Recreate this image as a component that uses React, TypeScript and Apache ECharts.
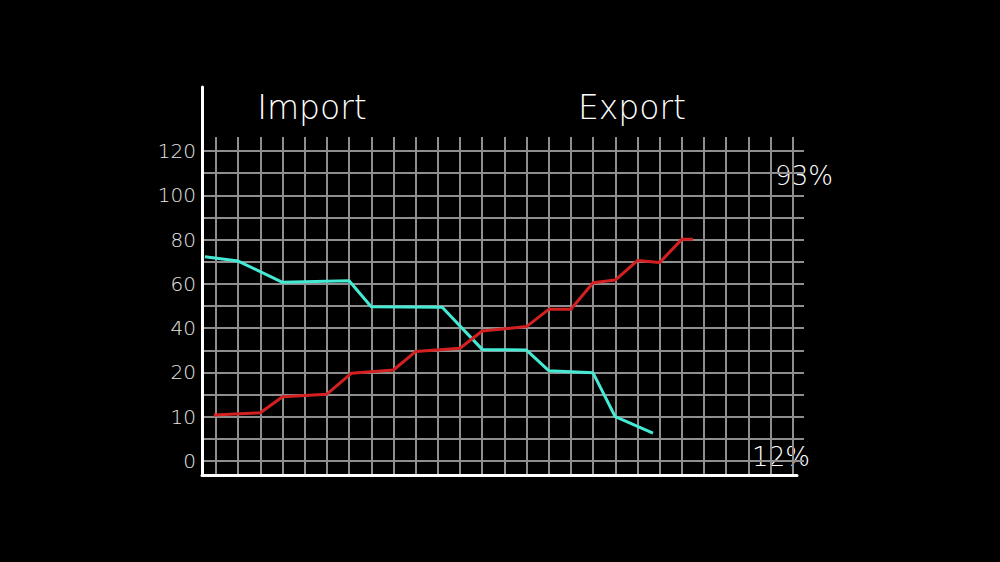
import React, { useEffect, useRef } from "react";
import * as echarts from "echarts";

// Y tick labels (non-linear scale as printed on the chart)
const yTickValues = [0, 10, 20, 40, 60, 80, 100, 120];

// x = grid column index, y = value in the chart's units
const importX = [-0.5, 1, 3, 6, 7, 10.2, 12, 14, 15, 17, 18, 19.7];
const importY = [72.2, 70.3, 60.7, 61.4, 49.7, 49.4, 30.4, 30.1, 20.8, 19.9, 10, 6.3];

const exportX = [-0.1, 2, 3, 5, 6.1, 8, 9, 11, 12, 14, 15, 16, 17, 18, 19, 20, 21, 21.5];
const exportY = [10.4, 10.9, 14.5, 15.1, 19.8, 21.1, 29.4, 30.9, 38.7, 40.7, 48.5, 48.5, 60.5, 61.7, 70.5, 69.6, 80.1, 80.1];

const titles = ["Import", "Export"];
const sideLabels = ["93%", "12%"];

// printed scale: 0..20 spans 4 grid rows, 20..120 spans 10 rows
function toPos(v: number): number {
  return v <= 20 ? v / 5 : 4 + (v - 20) / 10;
}

function zip(xs: number[], ys: number[]) {
  return xs.map((x, i) => [x, toPos(ys[i])]);
}

export default function App() {
  const ref = useRef<HTMLDivElement>(null);
  useEffect(() => {
    document.body.style.margin = "0";
    document.body.style.background = "#000";
    const chart = echarts.init(ref.current!, undefined, { renderer: "svg" });
    const gridColor = "#8e8e8e";
    const thin = { fontFamily: "DejaVu Sans", fontWeight: 200 };
    chart.setOption({
      animation: false,
      backgroundColor: "#000",
      grid: [
        { left: 216, right: 207.3, top: 137, bottom: 87 },
        { left: 202, right: 196, top: 151, bottom: 101 },
        { left: 202, right: 203, top: 87, bottom: 87 },
      ],
      xAxis: [
        {
          gridIndex: 0, type: "value", min: 0, max: 26, interval: 1,
          axisLine: { show: false }, axisTick: { show: false }, axisLabel: { show: false },
          splitLine: { show: true, lineStyle: { color: gridColor, width: 2 } },
        },
        {
          gridIndex: 1, type: "value", min: -0.631, max: 26.51,
          axisLine: { show: false }, axisTick: { show: false }, axisLabel: { show: false },
          splitLine: { show: false },
        },
        {
          gridIndex: 2, type: "value", min: 0, max: 1,
          axisLine: { show: true, lineStyle: { color: "#ffffff", width: 3 } },
          axisTick: { show: false }, axisLabel: { show: false }, splitLine: { show: false },
        },
      ],
      yAxis: [
        {
          gridIndex: 0, type: "value", min: -0.632, max: 14.632,
          axisLine: { show: false }, axisTick: { show: false }, axisLabel: { show: false },
          splitLine: { show: false },
        },
        {
          gridIndex: 1, type: "value", min: 0, max: 14, interval: 1,
          axisLine: { show: false }, axisTick: { show: false },
          axisLabel: {
            show: true, margin: 6, color: "#e6e6e6", fontSize: 20, ...thin,
            formatter: (v: number) => {
              const i = yTickValues.findIndex((t) => Math.abs(toPos(t) - v) < 1e-6);
              return i >= 0 ? String(yTickValues[i]) : "";
            },
          },
          splitLine: { show: true, lineStyle: { color: gridColor, width: 2 } },
        },
        {
          gridIndex: 2, type: "value", min: 0, max: 1,
          axisLine: { show: true, onZero: false, lineStyle: { color: "#ffffff", width: 3 } },
          axisTick: { show: false }, axisLabel: { show: false }, splitLine: { show: false },
        },
      ],
      series: [
        {
          type: "line", xAxisIndex: 1, yAxisIndex: 1, symbol: "none",
          data: zip(importX, importY),
          lineStyle: { color: "#45ead4", width: 3 }, z: 5,
        },
        {
          type: "line", xAxisIndex: 1, yAxisIndex: 1, symbol: "none",
          data: zip(exportX, exportY),
          lineStyle: { color: "#d42020", width: 3 }, z: 5,
        },
      ],
      graphic: [
        { type: "text", x: 312, y: 107, style: { text: titles[0], fill: "#fff", fontSize: 33, ...thin, align: "center", verticalAlign: "middle" } },
        { type: "text", x: 632, y: 107, style: { text: titles[1], fill: "#fff", fontSize: 33, ...thin, align: "center", verticalAlign: "middle" } },
        { type: "text", x: 804, y: 176, style: { text: sideLabels[0], fill: "#fff", fontSize: 26, ...thin, align: "center", verticalAlign: "middle" } },
        { type: "text", x: 781, y: 457, style: { text: sideLabels[1], fill: "#fff", fontSize: 26, ...thin, align: "center", verticalAlign: "middle" } },
      ],
    });
    return () => chart.dispose();
  }, []);
  return <div ref={ref} style={{ width: 1000, height: 562, background: "#000" }} />;
}
